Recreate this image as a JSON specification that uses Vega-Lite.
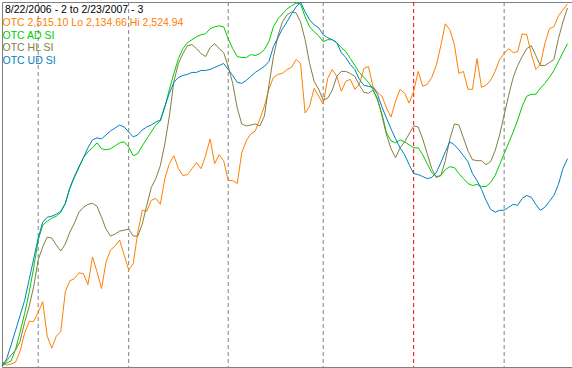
{
"$schema": "https://vega.github.io/schema/vega-lite/v6.json",
"width": 572, "height": 368, "padding": 0,
"autosize": {"type": "fit", "contains": "padding"},
"background": "white",
"config": {"view": {"stroke": "#808080", "strokeWidth": 1}},
"datasets": {
"series": [
{"i":0,"OTC":362,"AD":367,"HL":367,"UD":367},
{"i":1,"OTC":366,"AD":364,"HL":362,"UD":360},
{"i":2,"OTC":365,"AD":362,"HL":356,"UD":346},
{"i":3,"OTC":363,"AD":350,"HL":351,"UD":331},
{"i":4,"OTC":352,"AD":333,"HL":342,"UD":316},
{"i":5,"OTC":334,"AD":314,"HL":323,"UD":301},
{"i":6,"OTC":322,"AD":293,"HL":307,"UD":280},
{"i":7,"OTC":322,"AD":268,"HL":287,"UD":259},
{"i":8,"OTC":313,"AD":240,"HL":260,"UD":238},
{"i":9,"OTC":302,"AD":225,"HL":247,"UD":222},
{"i":10,"OTC":337,"AD":221,"HL":237,"UD":217},
{"i":11,"OTC":349,"AD":218,"HL":238,"UD":216},
{"i":12,"OTC":337,"AD":216,"HL":245,"UD":214},
{"i":13,"OTC":332,"AD":212,"HL":251,"UD":211},
{"i":14,"OTC":292,"AD":203,"HL":244,"UD":203},
{"i":15,"OTC":281,"AD":188,"HL":232,"UD":187},
{"i":16,"OTC":279,"AD":177,"HL":223,"UD":176},
{"i":17,"OTC":273,"AD":167,"HL":212,"UD":166},
{"i":18,"OTC":274,"AD":157,"HL":207,"UD":157},
{"i":19,"OTC":285,"AD":151,"HL":204,"UD":147},
{"i":20,"OTC":257,"AD":147,"HL":203,"UD":139},
{"i":21,"OTC":272,"AD":142,"HL":206,"UD":137},
{"i":22,"OTC":289,"AD":148,"HL":217,"UD":138},
{"i":23,"OTC":262,"AD":149,"HL":229,"UD":134},
{"i":24,"OTC":250,"AD":148,"HL":236,"UD":130},
{"i":25,"OTC":246,"AD":145,"HL":234,"UD":127},
{"i":26,"OTC":240,"AD":142,"HL":231,"UD":124},
{"i":27,"OTC":255,"AD":141,"HL":230,"UD":126},
{"i":28,"OTC":270,"AD":146,"HL":229,"UD":131},
{"i":29,"OTC":264,"AD":155,"HL":236,"UD":136},
{"i":30,"OTC":233,"AD":153,"HL":236,"UD":134},
{"i":31,"OTC":210,"AD":145,"HL":224,"UD":129},
{"i":32,"OTC":211,"AD":138,"HL":205,"UD":126},
{"i":33,"OTC":200,"AD":131,"HL":187,"UD":124},
{"i":34,"OTC":198,"AD":124,"HL":178,"UD":121},
{"i":35,"OTC":204,"AD":120,"HL":165,"UD":119},
{"i":36,"OTC":178,"AD":106,"HL":143,"UD":105},
{"i":37,"OTC":163,"AD":88,"HL":115,"UD":92},
{"i":38,"OTC":155,"AD":72,"HL":80,"UD":81},
{"i":39,"OTC":168,"AD":57,"HL":62,"UD":76},
{"i":40,"OTC":175,"AD":47,"HL":52,"UD":74},
{"i":41,"OTC":174,"AD":41,"HL":44,"UD":73},
{"i":42,"OTC":168,"AD":38,"HL":43,"UD":71},
{"i":43,"OTC":162,"AD":35,"HL":47,"UD":71},
{"i":44,"OTC":168,"AD":33,"HL":52,"UD":69},
{"i":45,"OTC":155,"AD":32,"HL":55,"UD":69},
{"i":46,"OTC":138,"AD":27,"HL":46,"UD":68},
{"i":47,"OTC":163,"AD":25,"HL":42,"UD":66},
{"i":48,"OTC":154,"AD":24,"HL":47,"UD":64},
{"i":49,"OTC":160,"AD":25,"HL":51,"UD":62},
{"i":50,"OTC":180,"AD":37,"HL":65,"UD":68},
{"i":51,"OTC":180,"AD":47,"HL":82,"UD":74},
{"i":52,"OTC":183,"AD":55,"HL":107,"UD":81},
{"i":53,"OTC":152,"AD":56,"HL":123,"UD":82},
{"i":54,"OTC":140,"AD":56,"HL":125,"UD":79},
{"i":55,"OTC":133,"AD":53,"HL":124,"UD":75},
{"i":56,"OTC":130,"AD":54,"HL":123,"UD":71},
{"i":57,"OTC":118,"AD":52,"HL":125,"UD":68},
{"i":58,"OTC":105,"AD":48,"HL":115,"UD":65},
{"i":59,"OTC":88,"AD":40,"HL":84,"UD":60},
{"i":60,"OTC":76,"AD":25,"HL":55,"UD":45},
{"i":61,"OTC":73,"AD":17,"HL":34,"UD":36},
{"i":62,"OTC":72,"AD":12,"HL":20,"UD":27},
{"i":63,"OTC":68,"AD":7,"HL":13,"UD":20},
{"i":64,"OTC":66,"AD":4,"HL":10,"UD":12},
{"i":65,"OTC":58,"AD":1,"HL":11,"UD":5},
{"i":66,"OTC":62,"AD":2,"HL":20,"UD":0},
{"i":67,"OTC":112,"AD":15,"HL":38,"UD":10},
{"i":68,"OTC":105,"AD":25,"HL":62,"UD":18},
{"i":69,"OTC":87,"AD":30,"HL":80,"UD":23},
{"i":70,"OTC":95,"AD":34,"HL":88,"UD":26},
{"i":71,"OTC":103,"AD":40,"HL":99,"UD":33},
{"i":72,"OTC":77,"AD":38,"HL":97,"UD":36},
{"i":73,"OTC":68,"AD":38,"HL":89,"UD":38},
{"i":74,"OTC":75,"AD":41,"HL":75,"UD":41},
{"i":75,"OTC":90,"AD":46,"HL":70,"UD":51},
{"i":76,"OTC":80,"AD":50,"HL":70,"UD":56},
{"i":77,"OTC":78,"AD":57,"HL":72,"UD":63},
{"i":78,"OTC":88,"AD":64,"HL":75,"UD":68},
{"i":79,"OTC":83,"AD":71,"HL":84,"UD":78},
{"i":80,"OTC":67,"AD":76,"HL":91,"UD":84},
{"i":81,"OTC":65,"AD":81,"HL":92,"UD":85},
{"i":82,"OTC":85,"AD":88,"HL":89,"UD":86},
{"i":83,"OTC":91,"AD":99,"HL":97,"UD":93},
{"i":84,"OTC":95,"AD":113,"HL":115,"UD":106},
{"i":85,"OTC":107,"AD":132,"HL":134,"UD":117},
{"i":86,"OTC":116,"AD":140,"HL":148,"UD":128},
{"i":87,"OTC":100,"AD":142,"HL":157,"UD":138},
{"i":88,"OTC":88,"AD":139,"HL":147,"UD":147},
{"i":89,"OTC":92,"AD":141,"HL":141,"UD":154},
{"i":90,"OTC":102,"AD":144,"HL":133,"UD":164},
{"i":91,"OTC":90,"AD":147,"HL":125,"UD":173},
{"i":92,"OTC":70,"AD":147,"HL":126,"UD":174},
{"i":93,"OTC":85,"AD":154,"HL":138,"UD":176},
{"i":94,"OTC":83,"AD":163,"HL":153,"UD":178},
{"i":95,"OTC":76,"AD":172,"HL":168,"UD":177},
{"i":96,"OTC":64,"AD":176,"HL":177,"UD":172},
{"i":97,"OTC":44,"AD":175,"HL":175,"UD":162},
{"i":98,"OTC":22,"AD":169,"HL":160,"UD":151},
{"i":99,"OTC":28,"AD":166,"HL":138,"UD":141},
{"i":100,"OTC":43,"AD":167,"HL":123,"UD":144},
{"i":101,"OTC":72,"AD":173,"HL":124,"UD":149},
{"i":102,"OTC":70,"AD":178,"HL":137,"UD":155},
{"i":103,"OTC":88,"AD":183,"HL":150,"UD":161},
{"i":104,"OTC":88,"AD":185,"HL":159,"UD":173},
{"i":105,"OTC":57,"AD":184,"HL":160,"UD":180},
{"i":106,"OTC":86,"AD":186,"HL":160,"UD":189},
{"i":107,"OTC":84,"AD":186,"HL":164,"UD":200},
{"i":108,"OTC":79,"AD":182,"HL":161,"UD":209},
{"i":109,"OTC":70,"AD":175,"HL":150,"UD":212},
{"i":110,"OTC":58,"AD":164,"HL":134,"UD":210},
{"i":111,"OTC":52,"AD":153,"HL":114,"UD":210},
{"i":112,"OTC":47,"AD":142,"HL":94,"UD":207},
{"i":113,"OTC":51,"AD":131,"HL":76,"UD":204},
{"i":114,"OTC":50,"AD":119,"HL":64,"UD":205},
{"i":115,"OTC":32,"AD":105,"HL":55,"UD":198},
{"i":116,"OTC":33,"AD":95,"HL":47,"UD":195},
{"i":117,"OTC":52,"AD":93,"HL":44,"UD":197},
{"i":118,"OTC":68,"AD":93,"HL":54,"UD":204},
{"i":119,"OTC":63,"AD":87,"HL":64,"UD":210},
{"i":120,"OTC":42,"AD":82,"HL":64,"UD":207},
{"i":121,"OTC":27,"AD":76,"HL":61,"UD":201},
{"i":122,"OTC":25,"AD":69,"HL":58,"UD":195},
{"i":123,"OTC":14,"AD":60,"HL":37,"UD":184},
{"i":124,"OTC":8,"AD":51,"HL":20,"UD":168},
{"i":125,"OTC":2,"AD":42,"HL":6,"UD":158}
],
"months": [{"i":8},{"i":28},{"i":50},{"i":71},{"i":91},{"i":111}]
},
"layer": [
{
"data": {"name": "months"},
"mark": {"type": "rule", "strokeDash": [4, 3], "strokeWidth": 1},
"encoding": {
"x": {"field": "i", "type": "quantitative", "scale": {"domain": [0, 126], "nice": false, "zero": true}, "axis": null},
"color": {"condition": {"test": "datum.i == 91", "value": "#FF0000"}, "value": "#808080"}
}
},
{
"data": {"name": "series"},
"transform": [{"fold": ["OTC", "AD", "HL", "UD"], "as": ["s", "v"]}],
"mark": {"type": "line", "strokeWidth": 1, "interpolate": "linear"},
"encoding": {
"x": {"field": "i", "type": "quantitative", "scale": {"domain": [0, 126], "nice": false, "zero": true}, "axis": null},
"y": {"field": "v", "type": "quantitative", "scale": {"domain": [0, 368], "reverse": true, "nice": false, "zero": false}, "axis": null},
"color": {
"field": "s", "type": "nominal",
"scale": {"domain": ["OTC", "AD", "HL", "UD"], "range": ["#FF8000", "#00CC00", "#808040", "#0080C0"]},
"legend": {
"orient": "top-left", "offset": 3, "padding": 0,
"title": "8/22/2006 - 2 to 2/23/2007 - 3",
"titleFont": "Liberation Sans", "titleFontSize": 10.5, "titleFontWeight": "normal", "titleColor": "#000000", "titlePadding": 2, "titleLimit": 0,
"labelFont": "Liberation Sans", "labelFontSize": 10.5, "labelOffset": -13, "rowPadding": 1.8, "labelLimit": 0,
"symbolSize": 0, "symbolStrokeWidth": 0, "symbolOpacity": 0,
"labelExpr": "datum.value == 'OTC' ? 'OTC 2,515.10 Lo 2,134.66 Hi 2,524.94' : 'OTC ' + datum.value + ' SI'",
"encode": {"labels": {"update": {"fill": {"signal": "scale('color', datum.value)"}}}}
}
}
}
}
]
}
